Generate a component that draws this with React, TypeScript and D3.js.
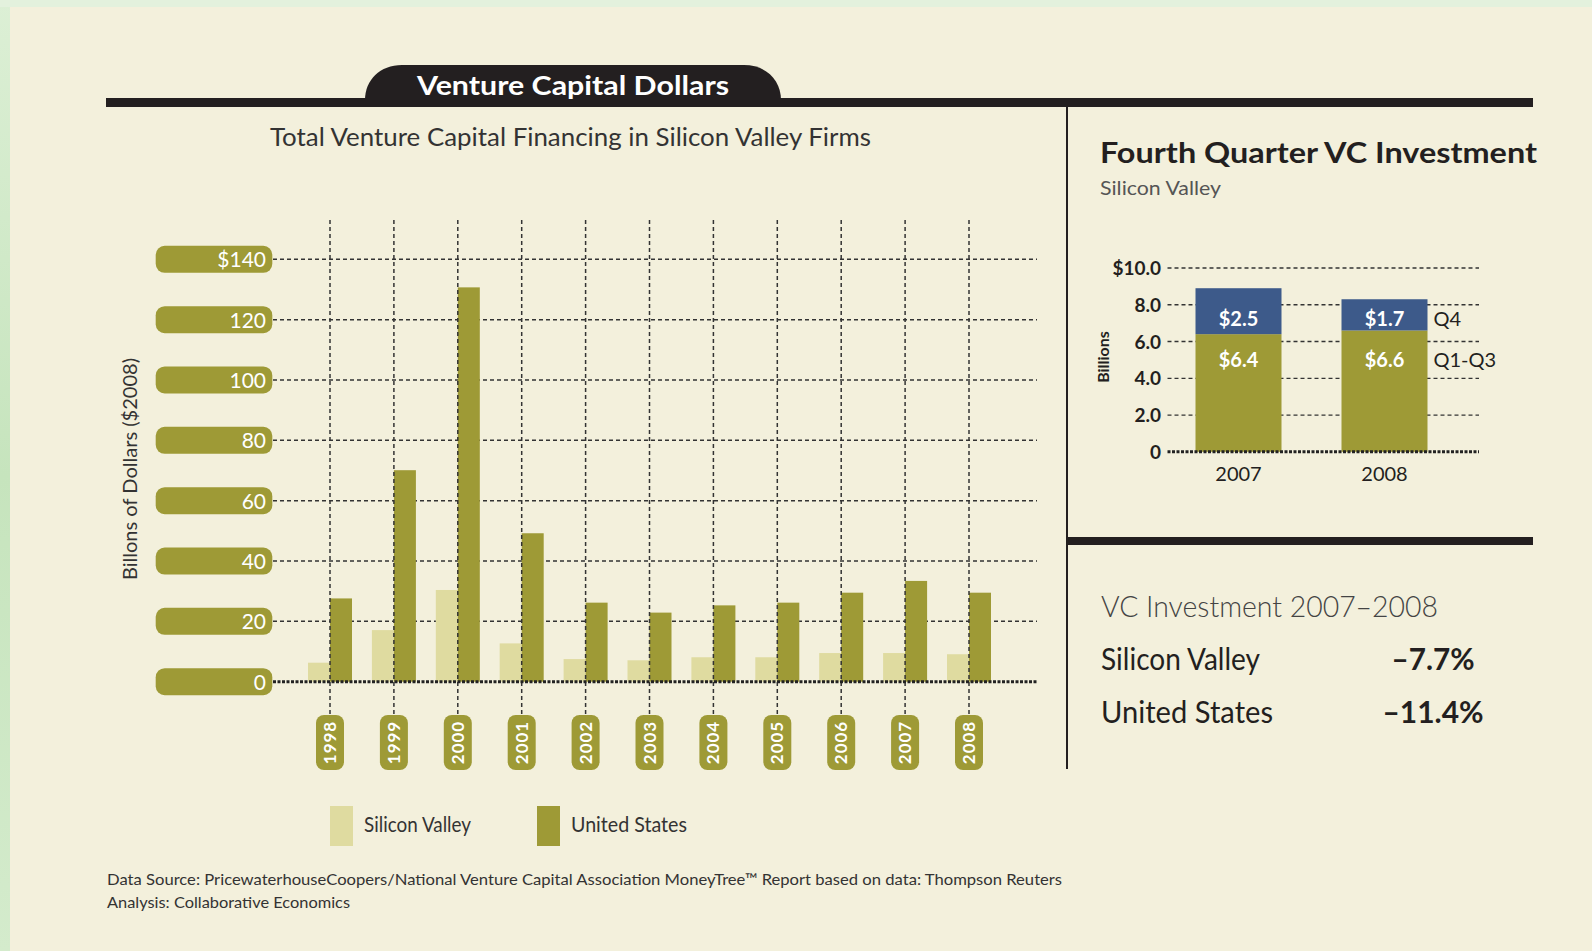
import React, { useRef, useEffect } from "react";
import * as d3 from "d3";

// main chart data (billions, $2008)
const years = ["1998", "1999", "2000", "2001", "2002", "2003", "2004", "2005", "2006", "2007", "2008"];
const siliconValley = [6.3, 17.1, 30.4, 12.7, 7.5, 7.1, 8.1, 8.1, 9.5, 9.5, 9.1];
const unitedStates = [27.6, 70.1, 130.7, 49.2, 26.2, 22.9, 25.3, 26.2, 29.5, 33.4, 29.5];
const yTicks = [0, 20, 40, 60, 80, 100, 120, 140];

// fourth quarter panel
const qYears = ["2007", "2008"];
const q1q3 = [6.4, 6.6];
const q4 = [2.5, 1.7];
const qTicks = [0, 2, 4, 6, 8, 10];

// summary
const summaryLabels = ["Silicon Valley", "United States"];
const summaryValues = ["–7.7%", "–11.4%"];

const OLIVE = "#9e9a36";
const LIGHT = "#dfdba0";
const BLUE = "#3d5a8a";
const CREAM = "#f3f0dc";
const INK = "#231f20";
const FONT = "Lato, 'Open Sans', sans-serif";

const App = () => {
  const svgRef = useRef(null);

  useEffect(() => {
    const svg = d3.select(svgRef.current);
    svg.selectAll("*").remove();

    const W = 1592;
    const H = 951;

    // background + green frame
    const defs = svg.append("defs");
    const grad = defs
      .append("linearGradient")
      .attr("id", "greenEdge")
      .attr("x1", 0)
      .attr("y1", 0)
      .attr("x2", 0)
      .attr("y2", 1);
    grad.append("stop").attr("offset", "0%").attr("stop-color", "#dcefd5");
    grad.append("stop").attr("offset", "50%").attr("stop-color", "#c6e4bd");
    grad.append("stop").attr("offset", "100%").attr("stop-color", "#d4ebcc");

    svg.append("rect").attr("width", W).attr("height", H).attr("fill", "url(#greenEdge)");
    svg.append("rect").attr("x", 0).attr("y", 0).attr("width", W).attr("height", 7).attr("fill", "#e3f1dd");
    svg.append("rect").attr("x", 10).attr("y", 7).attr("width", W - 10).attr("height", H - 7).attr("fill", CREAM);

    // header bar + tab
    svg.append("rect").attr("x", 106).attr("y", 98).attr("width", 1427).attr("height", 9).attr("fill", INK);
    svg
      .append("path")
      .attr("d", "M365,100 C365,80 380,65 402,65 L744,65 C766,65 781,80 781,100 Z")
      .attr("fill", INK);
    svg
      .append("text")
      .attr("x", 573)
      .attr("y", 95)
      .attr("text-anchor", "middle")
      .attr("font-family", FONT)
      .attr("font-weight", 700)
      .attr("font-size", 27)
      .attr("fill", "#fff")
      .attr("textLength", 312)
      .attr("lengthAdjust", "spacingAndGlyphs")
      .text("Venture Capital Dollars");

    svg
      .append("text")
      .attr("x", 270)
      .attr("y", 146)
      .attr("font-family", FONT)
      .attr("font-size", 25)
      .attr("fill", "#333")
      .attr("textLength", 601)
      .attr("lengthAdjust", "spacingAndGlyphs")
      .text("Total Venture Capital Financing in Silicon Valley Firms");

    // dividers
    svg.append("rect").attr("x", 1066).attr("y", 107).attr("width", 2).attr("height", 662).attr("fill", INK);
    svg.append("rect").attr("x", 1067).attr("y", 537).attr("width", 466).attr("height", 8).attr("fill", INK);

    // ---- main chart ----
    const x = d3.scalePoint().domain(years).range([330, 969]);
    const y = d3.scaleLinear().domain([0, 140]).range([681.7, 259.3]);
    const barW = 22;
    const gridLeft = 273;
    const gridRight = 1037;
    const pillTop = 715;

    const grid = svg.append("g");
    grid
      .selectAll("line.h")
      .data(yTicks.filter((d) => d > 0))
      .join("line")
      .attr("x1", gridLeft)
      .attr("x2", gridRight)
      .attr("y1", (d) => y(d))
      .attr("y2", (d) => y(d))
      .attr("stroke", "#333")
      .attr("stroke-width", 1.5)
      .attr("stroke-dasharray", "4 3");

    const bars = svg.append("g");
    bars
      .selectAll("rect.sv")
      .data(siliconValley)
      .join("rect")
      .attr("x", (d, i) => x(years[i]) - barW)
      .attr("y", (d) => y(d))
      .attr("width", barW)
      .attr("height", (d) => y(0) - y(d))
      .attr("fill", LIGHT);
    bars
      .selectAll("rect.us")
      .data(unitedStates)
      .join("rect")
      .attr("x", (d, i) => x(years[i]))
      .attr("y", (d) => y(d))
      .attr("width", barW)
      .attr("height", (d) => y(0) - y(d))
      .attr("fill", OLIVE);

    svg
      .append("g")
      .selectAll("line")
      .data(years)
      .join("line")
      .attr("x1", (d) => x(d))
      .attr("x2", (d) => x(d))
      .attr("y1", 220)
      .attr("y2", pillTop)
      .attr("stroke", "#333")
      .attr("stroke-width", 1.5)
      .attr("stroke-dasharray", "4 3");

    svg
      .append("line")
      .attr("x1", gridLeft)
      .attr("x2", gridRight)
      .attr("y1", y(0))
      .attr("y2", y(0))
      .attr("stroke", "#222")
      .attr("stroke-width", 3)
      .attr("stroke-dasharray", "3 1.5");

    // y tick pills
    const yPills = svg.append("g");
    yPills
      .selectAll("rect")
      .data(yTicks)
      .join("rect")
      .attr("x", 155.7)
      .attr("y", (d) => y(d) - 13.5)
      .attr("width", 116.6)
      .attr("height", 27)
      .attr("rx", 9)
      .attr("fill", OLIVE);
    yPills
      .selectAll("text")
      .data(yTicks)
      .join("text")
      .attr("x", 266)
      .attr("y", (d) => y(d) + 8)
      .attr("text-anchor", "end")
      .attr("font-family", FONT)
      .attr("font-size", 21)
      .attr("fill", "#fff")
      .text((d) => (d === 140 ? `$${d}` : `${d}`));

    svg
      .append("text")
      .attr("transform", "translate(137,469) rotate(-90)")
      .attr("text-anchor", "middle")
      .attr("font-family", FONT)
      .attr("font-size", 20)
      .attr("fill", "#333")
      .attr("textLength", 222)
      .attr("lengthAdjust", "spacingAndGlyphs")
      .text("Billons of Dollars ($2008)");

    // year pills
    const xPills = svg.append("g");
    xPills
      .selectAll("rect")
      .data(years)
      .join("rect")
      .attr("x", (d) => x(d) - 14)
      .attr("y", pillTop)
      .attr("width", 28)
      .attr("height", 55)
      .attr("rx", 8)
      .attr("fill", OLIVE);
    xPills
      .selectAll("text")
      .data(years)
      .join("text")
      .attr("transform", (d) => `translate(${x(d) + 6},${pillTop + 27.5}) rotate(-90)`)
      .attr("text-anchor", "middle")
      .attr("font-family", FONT)
      .attr("font-weight", 700)
      .attr("font-size", 17)
      .attr("letter-spacing", 1)
      .attr("fill", "#fff")
      .text((d) => d);

    // legend
    const legend = [
      { label: "Silicon Valley", color: LIGHT, x: 330, w: 107 },
      { label: "United States", color: OLIVE, x: 537, w: 116 },
    ];
    const lg = svg.append("g");
    lg.selectAll("rect")
      .data(legend)
      .join("rect")
      .attr("x", (d) => d.x)
      .attr("y", 806)
      .attr("width", 23)
      .attr("height", 40)
      .attr("fill", (d) => d.color);
    lg.selectAll("text")
      .data(legend)
      .join("text")
      .attr("x", (d) => d.x + 34)
      .attr("y", 832)
      .attr("font-family", FONT)
      .attr("font-size", 21)
      .attr("fill", "#333")
      .attr("textLength", (d) => d.w)
      .attr("lengthAdjust", "spacingAndGlyphs")
      .text((d) => d.label);

    // footer
    svg
      .append("text")
      .attr("x", 107)
      .attr("y", 885)
      .attr("font-family", FONT)
      .attr("font-size", 16)
      .attr("fill", "#333")
      .attr("textLength", 955)
      .attr("lengthAdjust", "spacingAndGlyphs")
      .text("Data Source: PricewaterhouseCoopers/National Venture Capital Association MoneyTree™ Report based on data: Thompson Reuters");
    svg
      .append("text")
      .attr("x", 107)
      .attr("y", 908)
      .attr("font-family", FONT)
      .attr("font-size", 16)
      .attr("fill", "#333")
      .attr("textLength", 243)
      .attr("lengthAdjust", "spacingAndGlyphs")
      .text("Analysis: Collaborative Economics");

    // ---- fourth quarter panel ----
    svg
      .append("text")
      .attr("x", 1100)
      .attr("y", 163)
      .attr("font-family", FONT)
      .attr("font-weight", 700)
      .attr("font-size", 28)
      .attr("fill", "#231f20")
      .attr("textLength", 437)
      .attr("lengthAdjust", "spacingAndGlyphs")
      .text("Fourth Quarter VC Investment");
    svg
      .append("text")
      .attr("x", 1100)
      .attr("y", 195)
      .attr("font-family", FONT)
      .attr("font-size", 20)
      .attr("fill", "#555")
      .attr("textLength", 121)
      .attr("lengthAdjust", "spacingAndGlyphs")
      .text("Silicon Valley");

    const qx = d3.scalePoint().domain(qYears).range([1238.5, 1384.5]);
    const qy = d3.scaleLinear().domain([0, 10]).range([451.8, 268]);
    const qW = 86;
    // labels sit on a shared row, just above / below the lowest Q1-Q3 top
    const splitY = qy(d3.min(q1q3));
    const q4LabelY = splitY - 8;
    const lowLabelY = splitY + 33;

    svg
      .append("g")
      .selectAll("line")
      .data(qTicks.filter((d) => d > 0))
      .join("line")
      .attr("x1", 1167.5)
      .attr("x2", 1479)
      .attr("y1", (d) => qy(d))
      .attr("y2", (d) => qy(d))
      .attr("stroke", "#333")
      .attr("stroke-width", 1.3)
      .attr("stroke-dasharray", "4 3");

    const qb = svg.append("g");
    qb.selectAll("rect.low")
      .data(q1q3)
      .join("rect")
      .attr("x", (d, i) => qx(qYears[i]) - qW / 2)
      .attr("y", (d) => qy(d))
      .attr("width", qW)
      .attr("height", (d) => qy(0) - qy(d))
      .attr("fill", OLIVE);
    qb.selectAll("rect.top")
      .data(q4)
      .join("rect")
      .attr("x", (d, i) => qx(qYears[i]) - qW / 2)
      .attr("y", (d, i) => qy(q1q3[i] + d))
      .attr("width", qW)
      .attr("height", (d, i) => qy(q1q3[i]) - qy(q1q3[i] + d))
      .attr("fill", BLUE);

    svg
      .append("line")
      .attr("x1", 1167.5)
      .attr("x2", 1479)
      .attr("y1", qy(0))
      .attr("y2", qy(0))
      .attr("stroke", "#222")
      .attr("stroke-width", 3)
      .attr("stroke-dasharray", "3 1.5");

    qb.selectAll("text.top")
      .data(q4)
      .join("text")
      .attr("x", (d, i) => qx(qYears[i]))
      .attr("y", q4LabelY)
      .attr("text-anchor", "middle")
      .attr("font-family", FONT)
      .attr("font-weight", 700)
      .attr("font-size", 20)
      .attr("fill", "#fff")
      .text((d) => `$${d.toFixed(1)}`);
    qb.selectAll("text.low")
      .data(q1q3)
      .join("text")
      .attr("x", (d, i) => qx(qYears[i]))
      .attr("y", lowLabelY)
      .attr("text-anchor", "middle")
      .attr("font-family", FONT)
      .attr("font-weight", 700)
      .attr("font-size", 20)
      .attr("fill", "#fff")
      .text((d) => `$${d.toFixed(1)}`);

    svg
      .append("g")
      .selectAll("text")
      .data(qTicks)
      .join("text")
      .attr("x", 1161)
      .attr("y", (d) => qy(d) + 7)
      .attr("text-anchor", "end")
      .attr("font-family", FONT)
      .attr("font-weight", 700)
      .attr("font-size", 19)
      .attr("fill", "#231f20")
      .text((d) => (d === 0 ? "0" : d === 10 ? "$10.0" : d.toFixed(1)));

    svg
      .append("text")
      .attr("transform", "translate(1109,357) rotate(-90)")
      .attr("text-anchor", "middle")
      .attr("font-family", FONT)
      .attr("font-weight", 700)
      .attr("font-size", 16)
      .attr("fill", "#231f20")
      .text("Billions");

    svg
      .append("g")
      .selectAll("text")
      .data(qYears)
      .join("text")
      .attr("x", (d) => qx(d))
      .attr("y", 481)
      .attr("text-anchor", "middle")
      .attr("font-family", FONT)
      .attr("font-size", 20)
      .attr("fill", "#231f20")
      .text((d) => d);

    const lastX = qx(qYears[qYears.length - 1]) + qW / 2 + 6;
    svg
      .append("text")
      .attr("x", lastX)
      .attr("y", q4LabelY)
      .attr("font-family", FONT)
      .attr("font-size", 20)
      .attr("fill", "#231f20")
      .text("Q4");
    svg
      .append("text")
      .attr("x", lastX)
      .attr("y", lowLabelY)
      .attr("font-family", FONT)
      .attr("font-size", 20)
      .attr("fill", "#231f20")
      .text("Q1-Q3");

    // ---- summary ----
    svg
      .append("text")
      .attr("x", 1101)
      .attr("y", 617)
      .attr("font-family", FONT)
      .attr("font-weight", 300)
      .attr("font-size", 30)
      .attr("fill", "#444")
      .attr("textLength", 337)
      .attr("lengthAdjust", "spacingAndGlyphs")
      .text("VC Investment 2007–2008");

    const rowY = d3.scalePoint().domain(summaryLabels).range([670, 723]);
    const labelW = [159, 172];
    const valueW = [83, 101];
    svg
      .append("g")
      .selectAll("text")
      .data(summaryLabels)
      .join("text")
      .attr("x", 1101)
      .attr("y", (d) => rowY(d))
      .attr("font-family", FONT)
      .attr("font-size", 30)
      .attr("fill", "#231f20")
      .attr("textLength", (d, i) => labelW[i])
      .attr("lengthAdjust", "spacingAndGlyphs")
      .text((d) => d);
    svg
      .append("g")
      .selectAll("text")
      .data(summaryValues)
      .join("text")
      .attr("x", 1433)
      .attr("y", (d, i) => rowY(summaryLabels[i]))
      .attr("text-anchor", "middle")
      .attr("font-family", FONT)
      .attr("font-weight", 700)
      .attr("font-size", 30)
      .attr("fill", "#231f20")
      .attr("textLength", (d, i) => valueW[i])
      .attr("lengthAdjust", "spacingAndGlyphs")
      .text((d) => d);
  }, []);

  return (
    <svg
      ref={svgRef}
      width={1592}
      height={951}
      style={{ position: "absolute", left: 0, top: 0, display: "block" }}
    ></svg>
  );
};

export default App;
